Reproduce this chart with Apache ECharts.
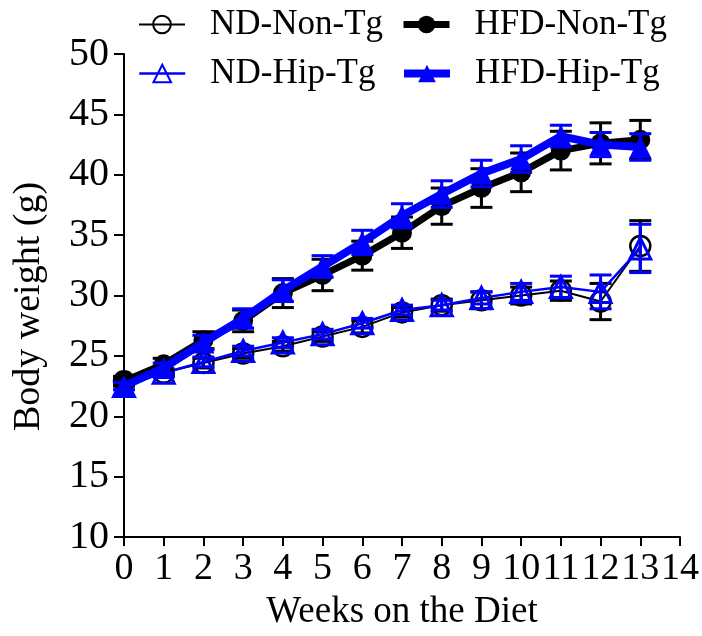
<!DOCTYPE html>
<html>
<head>
<meta charset="utf-8">
<script src="https://cdn.jsdelivr.net/npm/echarts@6/dist/echarts.min.js"></script>
<style>html,body{margin:0;padding:0;background:#fff;}#c{width:702px;height:636px;}</style>
</head>
<body>
<div id="c"></div>
<script>
const weeks = [0,1,2,3,4,5,6,7,8,9,10,11,12,13];
const ndNonTg    = [22.9, 23.6, 24.4, 25.2, 25.8, 26.6, 27.4, 28.6, 29.2, 29.6, 30.0, 30.4, 29.5, 34.1];
const ndNonTgErr = [0.3, 0.3, 0.4, 0.4, 0.4, 0.4, 0.5, 0.4, 0.5, 0.7, 0.7, 0.8, 1.5, 2.1];
const ndHipTg    = [22.5, 23.6, 24.5, 25.4, 26.1, 26.8, 27.7, 28.8, 29.2, 29.8, 30.3, 30.7, 30.3, 33.9];
const ndHipTgErr = [0.3, 0.3, 0.4, 0.4, 0.4, 0.4, 0.4, 0.4, 0.4, 0.5, 0.7, 0.9, 1.4, 2.0];
const hfdNonTg    = [22.9, 24.3, 26.3, 27.9, 30.2, 31.7, 33.3, 35.2, 37.4, 38.9, 40.2, 42.0, 42.6, 42.9];
const hfdNonTgErr = [0.4, 0.5, 0.7, 0.9, 1.2, 1.3, 1.2, 1.3, 1.5, 1.6, 1.6, 1.6, 1.7, 1.6];
const hfdHipTg    = [22.5, 24.0, 26.1, 28.1, 30.4, 32.4, 34.4, 36.6, 38.4, 40.1, 41.3, 43.2, 42.5, 42.3];
const hfdHipTgErr = [0.3, 0.4, 0.6, 0.8, 0.9, 0.9, 1.0, 1.0, 1.1, 1.1, 1.1, 0.9, 1.0, 1.1];
const yTicks = [10, 50, 5];
const xTicks = [0, 14, 1];

const FONT = 'Liberation Serif';
const BLACK = '#000000', BLUE = '#0000ff';

function pts(vals){ return vals.map((v,i)=>[weeks[i], v]); }

function errSeries(name, vals, errs, color, z){
  return {
    type: 'custom', name: name, z: z, silent: true,
    data: vals.map((v,i)=>[weeks[i], v, errs[i]]),
    encode: {x: 0, y: 1},
    renderItem: function(params, api){
      const x = api.value(0), y = api.value(1), e = api.value(2);
      const hi = api.coord([x, y + e]);
      const lo = api.coord([x, y - e]);
      const w = 11;
      const st = {stroke: color, lineWidth: 3};
      return {type: 'group', children: [
        {type: 'line', shape: {x1: hi[0], y1: hi[1], x2: lo[0], y2: lo[1]}, style: st},
        {type: 'line', shape: {x1: hi[0]-w, y1: hi[1], x2: hi[0]+w, y2: hi[1]}, style: st},
        {type: 'line', shape: {x1: lo[0]-w, y1: lo[1], x2: lo[0]+w, y2: lo[1]}, style: st}
      ]};
    }
  };
}

function legendAt(name, left, top, lw){
  return {
    data: [name], left: left, top: top, orient: 'horizontal',
    itemWidth: 46, itemHeight: 22, selectedMode: false,
    lineStyle: {width: lw},
    textStyle: {fontFamily: FONT, fontSize: 35, color: '#000', padding: [0,0,0,20]}
  };
}

const chart = echarts.init(document.getElementById('c'), null, {renderer: 'canvas'});
chart.setOption({
  backgroundColor: '#ffffff',
  animation: false,
  legend: [
    legendAt('ND-Non-Tg', 133, 2, 2),
    legendAt('HFD-Non-Tg', 395, 2, 7),
    legendAt('ND-Hip-Tg', 133, 51, 2.5),
    legendAt('HFD-Hip-Tg', 395, 51, 8)
  ],
  grid: {left: 124, right: 19, top: 54, bottom: 97, containLabel: false},
  xAxis: {
    type: 'value', min: xTicks[0], max: xTicks[1], interval: xTicks[2],
    name: 'Weeks on the Diet', nameLocation: 'middle', nameGap: 57,
    nameTextStyle: {fontFamily: FONT, fontSize: 37, color: '#000'},
    axisLine: {onZero: false, lineStyle: {color: '#000', width: 2}},
    axisTick: {show: true, length: 9, lineStyle: {color: '#000', width: 2}},
    axisLabel: {fontFamily: FONT, fontSize: 38, color: '#000', margin: 13},
    splitLine: {show: false}
  },
  yAxis: {
    type: 'value', min: yTicks[0], max: yTicks[1], interval: yTicks[2],
    name: 'Body weight (g)', nameLocation: 'middle', nameGap: 76,
    nameTextStyle: {fontFamily: FONT, fontSize: 38, color: '#000', padding: [0, 22, 0, 0]},
    axisLine: {onZero: false, lineStyle: {color: '#000', width: 2}},
    axisTick: {show: true, length: 10, lineStyle: {color: '#000', width: 2}},
    axisLabel: {fontFamily: FONT, fontSize: 40, color: '#000', margin: 15},
    splitLine: {show: false}
  },
  series: [
    errSeries('ndNonTgErr', ndNonTg, ndNonTgErr, BLACK, 2),
    {
      type: 'line', name: 'ND-Non-Tg', data: pts(ndNonTg), z: 3,
      symbol: 'circle', symbolSize: 20,
      lineStyle: {color: BLACK, width: 2},
      itemStyle: {color: 'rgba(255,255,255,0)', borderColor: BLACK, borderWidth: 2.5}
    },
    errSeries('ndHipTgErr', ndHipTg, ndHipTgErr, BLUE, 4),
    {
      type: 'line', name: 'ND-Hip-Tg', data: pts(ndHipTg), z: 5,
      symbol: 'triangle', symbolSize: 21,
      lineStyle: {color: BLUE, width: 2.5},
      itemStyle: {color: 'rgba(255,255,255,0)', borderColor: BLUE, borderWidth: 3}
    },
    errSeries('hfdNonTgErr', hfdNonTg, hfdNonTgErr, BLACK, 6),
    {
      type: 'line', name: 'HFD-Non-Tg', data: pts(hfdNonTg), z: 7,
      symbol: 'circle', symbolSize: 20,
      lineStyle: {color: BLACK, width: 7},
      itemStyle: {color: BLACK, borderColor: BLACK, borderWidth: 0}
    },
    errSeries('hfdHipTgErr', hfdHipTg, hfdHipTgErr, BLUE, 8),
    {
      type: 'line', name: 'HFD-Hip-Tg', data: pts(hfdHipTg), z: 9,
      symbol: 'triangle', symbolSize: 22,
      lineStyle: {color: BLUE, width: 8},
      itemStyle: {color: BLUE, borderColor: BLUE, borderWidth: 0}
    }
  ]
});
</script>
</body>
</html>
